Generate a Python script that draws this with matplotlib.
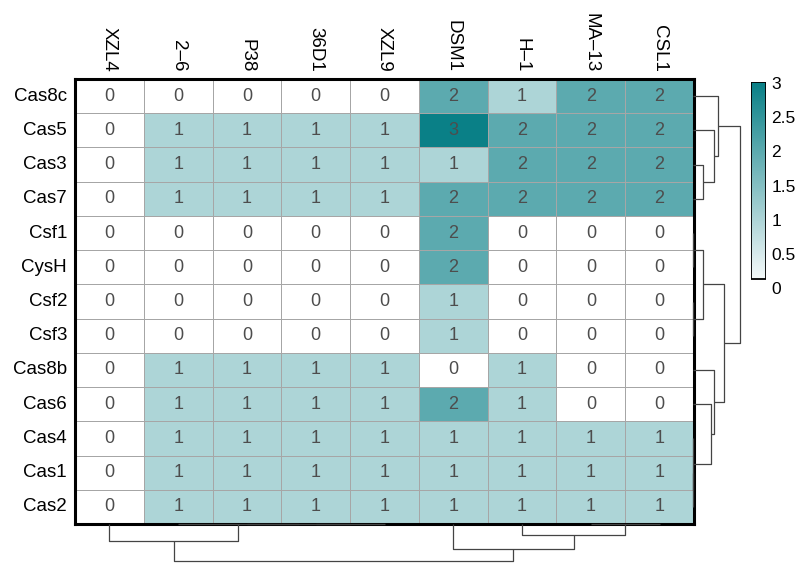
import numpy as np
import matplotlib
matplotlib.use("Agg")
from matplotlib import pyplot as plt
from matplotlib.colors import LinearSegmentedColormap
from matplotlib.patches import Rectangle

plt.rcParams['font.family'] = ['Liberation Sans', 'DejaVu Sans']

col_labels = ["XZL4", "2\u20136", "P38", "36D1", "XZL9", "DSM1", "H\u20131", "MA\u201313", "CSL1"]
row_labels = ["Cas8c", "Cas5", "Cas3", "Cas7", "Csf1", "CysH", "Csf2", "Csf3",
              "Cas8b", "Cas6", "Cas4", "Cas1", "Cas2"]

values = [
    [0, 0, 0, 0, 0, 2, 1, 2, 2],
    [0, 1, 1, 1, 1, 3, 2, 2, 2],
    [0, 1, 1, 1, 1, 1, 2, 2, 2],
    [0, 1, 1, 1, 1, 2, 2, 2, 2],
    [0, 0, 0, 0, 0, 2, 0, 0, 0],
    [0, 0, 0, 0, 0, 2, 0, 0, 0],
    [0, 0, 0, 0, 0, 1, 0, 0, 0],
    [0, 0, 0, 0, 0, 1, 0, 0, 0],
    [0, 1, 1, 1, 1, 0, 1, 0, 0],
    [0, 1, 1, 1, 1, 2, 1, 0, 0],
    [0, 1, 1, 1, 1, 1, 1, 1, 1],
    [0, 1, 1, 1, 1, 1, 1, 1, 1],
    [0, 1, 1, 1, 1, 1, 1, 1, 1],
]

# dendrogram merges: (left node, right node, height); nodes >= n are earlier merges
row_merges = [
    (2, 3, 1.0), (1, 13, 2.0), (0, 14, 2.45),
    (4, 5, 0.0), (6, 7, 0.0), (16, 17, 1.0),
    (11, 12, 0.0), (10, 19, 0.0), (9, 20, 1.73), (8, 21, 2.0),
    (18, 22, 3.0), (15, 23, 4.47),
]
col_merges = [
    (3, 4, 0.0), (2, 9, 0.0), (1, 10, 0.0), (0, 11, 2.83),
    (7, 8, 0.0), (6, 13, 1.73), (5, 14, 4.0), (12, 15, 5.92),
]

W, H = 797, 570
cmap = LinearSegmentedColormap.from_list("teal", ["#ffffff", "#0a8087"])


def fig_rect(left, top, right, bottom):
    return [left / W, 1 - bottom / H, (right - left) / W, (bottom - top) / H]


def draw_tree(ax, merges, n, side):
    pos = {i: i + 0.5 for i in range(n)}
    hgt = {i: 0.0 for i in range(n)}
    for k, (a, b, h) in enumerate(merges):
        pa, pb = pos[a], pos[b]
        xs = [hgt[a], h, h, hgt[b]]
        ys = [pa, pa, pb, pb]
        if side == "right":
            ax.plot(xs, ys, color="#444444", lw=0.9, clip_on=False, solid_capstyle="butt")
        else:
            ax.plot(ys, xs, color="#444444", lw=0.9, clip_on=False, solid_capstyle="butt")
        pos[n + k] = (pa + pb) / 2
        hgt[n + k] = h
    ax.axis("off")


data = np.array(values)
nr, nc = data.shape

fig = plt.figure(figsize=(W / 100, H / 100), dpi=100)

hx0, hy0, hx1, hy1 = 75, 79, 694, 524
ax = fig.add_axes(fig_rect(hx0, hy0, hx1, hy1))
ax.pcolormesh(np.arange(nc + 1), np.arange(nr + 1), data, cmap=cmap, vmin=0, vmax=3,
              edgecolors="#a6a6a6", linewidth=0.5)
ax.set_xlim(0, nc)
ax.set_ylim(nr, 0)
for i in range(nr):
    for j in range(nc):
        ax.text(j + 0.5, i + 0.5, str(data[i, j]), ha="center", va="center",
                fontsize=13, color="#4d4d4d")
for s in ax.spines.values():
    s.set_linewidth(2.2)
    s.set_color("black")
ax.set_xticks([])
ax.set_yticks([])
for i, lab in enumerate(row_labels):
    ax.annotate(lab, (0, i + 0.5), xytext=(-8, 0), textcoords="offset pixels",
                ha="right", va="center", fontsize=13.5, annotation_clip=False)
for j, lab in enumerate(col_labels):
    ax.annotate(lab, (j + 0.5, 0), xytext=(0, 7), textcoords="offset pixels",
                ha="center", va="bottom", rotation=-90, fontsize=13.5, annotation_clip=False)

# row dendrogram
axr = fig.add_axes(fig_rect(693, hy0, 739.5, hy1))
axr.set_xlim(0, 4.47)
axr.set_ylim(nr, 0)
draw_tree(axr, row_merges, nr, "right")

# column dendrogram
axc = fig.add_axes(fig_rect(hx0, 524, hx1, 560.5))
axc.set_xlim(0, nc)
axc.set_ylim(5.92, 0)
draw_tree(axc, col_merges, nc, "bottom")

# colour legend
axl = fig.add_axes(fig_rect(751, 81.7, 766, 288))
grad = np.linspace(0.13, 3.02, 200).reshape(-1, 1)
axl.imshow(grad, cmap=cmap, vmin=0, vmax=3, aspect="auto", origin="lower",
           extent=[0, 1, 0.13, 3.02])
axl.add_patch(Rectangle((0, 0.13), 1, 2.89, fill=False, ec="black", lw=1.3))
axl.set_xlim(0, 1)
axl.set_ylim(0, 3.02)
for s in axl.spines.values():
    s.set_visible(False)
axl.set_xticks([])
ticks = [0, 0.5, 1, 1.5, 2, 2.5, 3]
axl.yaxis.tick_right()
axl.set_yticks(ticks)
axl.set_yticklabels(["0", "0.5", "1", "1.5", "2", "2.5", "3"], fontsize=12.5)
axl.tick_params(axis="y", length=0, pad=4)

fig.savefig("out.png", dpi=100)
